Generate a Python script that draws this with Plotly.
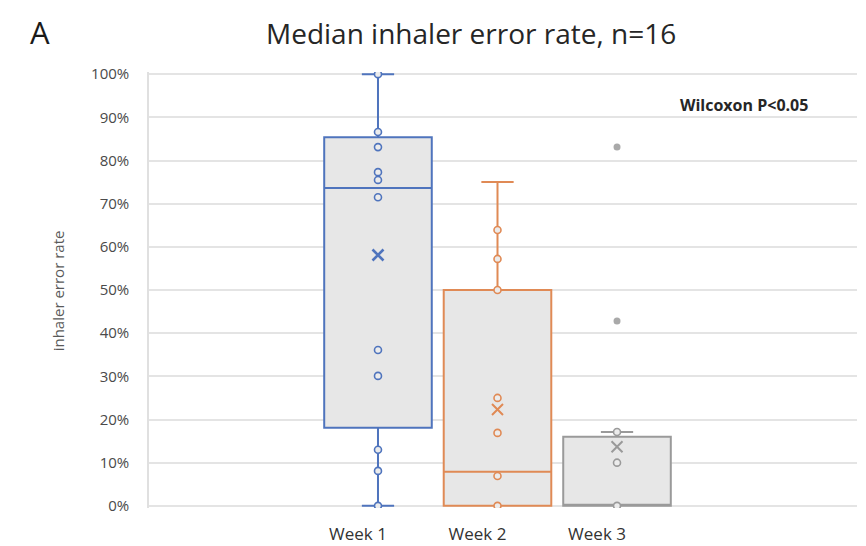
import plotly.graph_objects as go

# Inhaler error rate per week (fraction of steps done wrongly), n=16
weeks = ["Week 1", "Week 2", "Week 3"]
box_colors = ["#4f74bd", "#e08a55", "#9a9a9a"]

q1 = [0.181, 0.0, 0.0]
median = [0.736, 0.079, 0.0]
q3 = [0.854, 0.50, 0.160]
lower_whisker = [0.0, 0.0, 0.0]
upper_whisker = [1.0, 0.75, 0.171]
means = [0.581, 0.223, 0.137]

week1_points = [1.0, 0.866, 0.831, 0.773, 0.755, 0.715, 0.361, 0.301, 0.130, 0.081, 0.0]
week2_points = [0.639, 0.572, 0.50, 0.25, 0.169, 0.069, 0.0]
week3_points = [0.171, 0.10, 0.0]
week3_outliers = [0.831, 0.428]

y_ticks = [i / 10 for i in range(11)]

FONT = "Open Sans"
fig = go.Figure()

inner_points = [week1_points, week2_points, week3_points]
for i, wk in enumerate(weeks):
    fig.add_trace(go.Box(
        x=[wk], q1=[q1[i]], median=[median[i]], q3=[q3[i]],
        lowerfence=[lower_whisker[i]], upperfence=[upper_whisker[i]],
        width=0.9, whiskerwidth=0.3,
        fillcolor="#e7e7e7",
        line=dict(color=box_colors[i], width=2),
        boxpoints=False, hoverinfo="skip", showlegend=False,
    ))
    fig.add_trace(go.Scatter(
        x=[wk] * len(inner_points[i]), y=inner_points[i], mode="markers",
        marker=dict(symbol="circle", size=7, color="#ececec",
                    line=dict(color=box_colors[i], width=1.6)),
        showlegend=False, hoverinfo="skip",
    ))
    fig.add_trace(go.Scatter(
        x=[wk], y=[means[i]], mode="markers",
        marker=dict(symbol="x-thin", size=11,
                    line=dict(color=box_colors[i], width=2.6 if i == 0 else 2)),
        showlegend=False, hoverinfo="skip",
    ))

fig.add_trace(go.Scatter(
    x=[weeks[2]] * len(week3_outliers), y=week3_outliers, mode="markers",
    marker=dict(symbol="circle", size=7, color="#a9a9a9"),
    showlegend=False, hoverinfo="skip",
))

fig.update_layout(
    width=866, height=546,
    margin=dict(l=149, r=9, t=72, b=38),
    paper_bgcolor="white", plot_bgcolor="white",
    font=dict(family=FONT, color="#595959"),
    xaxis=dict(
        type="category", categoryorder="array", categoryarray=weeks,
        range=[-1.916, 4.008], showgrid=False, zeroline=False,
        showline=False, ticks="", tickfont=dict(size=17, color="#333333"),
        ticklabelshift=-20, ticklabelstandoff=14, automargin=False,
    ),
    yaxis=dict(
        range=[-0.005, 1.005], tickvals=y_ticks, tickformat=".0%",
        showgrid=True, gridcolor="#e4e4e4", gridwidth=1.5,
        zeroline=False, showline=True, linecolor="#e0e0e0", linewidth=1.5,
        ticks="", ticklabelstandoff=15, tickfont=dict(size=15, color="#4a4a4a"),
        automargin=False,
    ),
    annotations=[
        dict(text="Median inhaler error rate, n=16", xref="paper", yref="paper",
             x=0.4548, y=1.089, xanchor="center", yanchor="middle", showarrow=False,
             font=dict(size=28, color="#262626", family=FONT)),
        dict(text="A", xref="paper", yref="paper", x=-0.154, y=1.092,
             xanchor="center", yanchor="middle", showarrow=False,
             font=dict(size=31, color="#1a1a1a", family=FONT)),
        dict(text="inhaler error rate", xref="paper", yref="paper",
             x=-0.1285, y=0.497, xanchor="center", yanchor="middle",
             textangle=-90, showarrow=False,
             font=dict(size=15, color="#595959", family=FONT)),
        dict(text="<b>Wilcoxon P&lt;0.05</b>", xref="paper", yref="paper",
             x=0.84, y=0.924, xanchor="center", yanchor="middle", showarrow=False,
             font=dict(size=16, color="#262626", family=FONT)),
    ],
)

fig.write_html("out.html")
